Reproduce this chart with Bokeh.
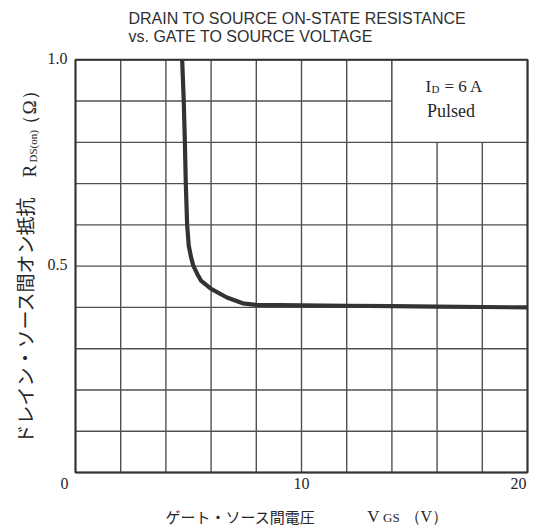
import math
from bokeh.plotting import figure
from bokeh.models import Label, Range1d
from bokeh.embed import file_html
from bokeh.resources import INLINE

# ---- data ----
vgs = [4.72, 4.79, 4.84, 4.88, 4.94, 5.01, 5.12, 5.22, 5.4, 5.55, 6.0, 6.7, 7.4, 8.0, 10, 12, 14, 16, 18, 20]
rds = [1.0, 0.9, 0.8, 0.7, 0.6, 0.55, 0.52, 0.5, 0.48, 0.465, 0.445, 0.424, 0.41, 0.406, 0.405, 0.404, 0.403, 0.402, 0.401, 0.40]
x_grid = [0, 2, 4, 6, 8, 10, 12, 14, 16, 18, 20]
y_grid = [0, 0.1, 0.2, 0.3, 0.4, 0.5, 0.6, 0.7, 0.8, 0.9, 1.0]
x_ticks = [0, 10, 20]
x_tick_labels = ["0", "10", "20"]
y_ticks = [0.5, 1.0]
y_tick_labels = ["0.5", "1.0"]
box_x = [14, 20]
box_y = [0.8, 1.0]

SERIF = "Liberation Serif"
SANS = "Liberation Sans"
CJK = "Noto Sans CJK JP"
INK = "#262626"
GRID = "#505050"

# canvas and plotting-area geometry (pixels)
W, H = 544, 530
FL, FR, FT, FB = 75, 527, 59.3, 472
xmin, xmax = x_grid[0], x_grid[-1]
ymin, ymax = y_grid[0], y_grid[-1]
kx = (FR - FL) / (xmax - xmin)
ky = (FB - FT) / (ymax - ymin)
x_range = Range1d(xmin - FL / kx, xmax + (W - FR) / kx)
y_range = Range1d(ymin - (H - FB) / ky, ymax + FT / ky)

p = figure(width=W, height=H, x_range=x_range, y_range=y_range,
           output_backend="svg", toolbar_location=None,
           x_axis_location=None, y_axis_location=None,
           min_border=0, background_fill_color="white", border_fill_color="white")
p.outline_line_color = None
p.xgrid.visible = False
p.ygrid.visible = False

# grid
p.segment(x0=x_grid, y0=[ymin] * len(x_grid), x1=x_grid, y1=[ymax] * len(x_grid),
          line_color=GRID, line_width=1.4)
p.segment(x0=[xmin] * len(y_grid), y0=y_grid, x1=[xmax] * len(y_grid), y1=y_grid,
          line_color=GRID, line_width=1.4)

# white box for conditions
p.quad(left=[box_x[0]], right=[box_x[1]], bottom=[box_y[0]], top=[box_y[1]],
       fill_color="white", line_color=GRID, line_width=1.4)

# curve
p.line(vgs, rds, line_color="#333333", line_width=4.2, line_join="round")

# plot border
p.quad(left=[xmin], right=[xmax], bottom=[ymin], top=[ymax],
       fill_color=None, line_color="#333333", line_width=2)


def lab(x, y, text, dx, dy, font=SERIF, size="16px", align="left", baseline="alphabetic",
        angle=0.0, color=INK):
    p.add_layout(Label(x=x, y=y, text=text, x_offset=dx, y_offset=dy, text_font=font,
                       text_font_size=size, text_align=align, text_baseline=baseline,
                       angle=angle, text_color=color))


# tick labels
for v, t in zip(y_ticks, y_tick_labels):
    lab(xmin, v, t, -8, 1.5, size="16px", align="right", baseline="middle")
x_shift = {0: -11, 10: 0, 20: -9}
for v, t in zip(x_ticks, x_tick_labels):
    lab(v, ymin, t, x_shift[v], -10.5, size="16px", align="center", baseline="middle")

# title
lab(xmin, ymax, "DRAIN TO SOURCE ON-STATE RESISTANCE", 53, 41.5, font=SANS, size="16px", color="#303030")
lab(xmin, ymax, "vs. GATE TO SOURCE VOLTAGE", 53, 23.5, font=SANS, size="16px", color="#303030")

# x axis title
lab(xmin, ymin, "ゲート・ソース間電圧", 90, -43.5, font=CJK, size="15px")
lab(xmin, ymin, "V", 291.7, -44, size="17px")
lab(xmin, ymin, "GS", 307.5, -44.5, size="13px")
lab(xmin, ymin, "（V）", 329, -44, size="16px")

# y axis title (rotated)
A = math.pi / 2
lab(xmin, ymin, "ドレイン・ソース間オン抵抗", -51, 29, font=CJK, size="19px", angle=A)
lab(xmin, ymin, "R", -46, 295, size="19px", angle=A)
lab(xmin, ymin, "DS(on)", -43, 310, size="11px", angle=A)
lab(xmin, ymin, "（Ω）", -46, 339, size="19px", angle=A)

# condition text
lab(box_x[0], box_y[1], "I", 33.5, -27, size="17px")
lab(box_x[0], box_y[1], "D", 39.5, -29, size="11px")
lab(box_x[0], box_y[1], "= 6 A", 52.5, -27, size="17px")
lab(box_x[0], box_y[1], "Pulsed", 35, -51, size="18px")

open("out.html", "w").write(file_html(p, INLINE))
